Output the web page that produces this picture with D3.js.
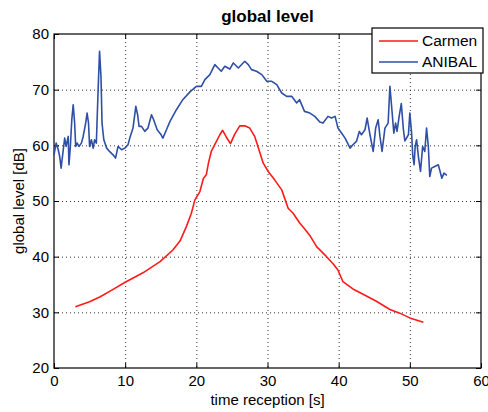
<!DOCTYPE html>
<html>
<head>
<meta charset="utf-8">
<script src="https://cdn.jsdelivr.net/npm/d3@7"></script>
<style>
  body { margin: 0; background: #fff; }
  svg text { font-family: "Liberation Sans", Arial, sans-serif; fill: #000; }
</style>
</head>
<body>
<div class="container"></div>
<script>
const xTicks = [0, 10, 20, 30, 40, 50, 60],
    yTicks = [20, 30, 40, 50, 60, 70, 80];

// Carmen: [time s, level dB]
const carmen = [
    [3.0,31.0],[5,31.9],[6.5,32.8],[8,33.9],[10,35.4],[12.5,37.1],[14.9,39.1],[16.7,41.2],
    [17.7,42.8],[18.6,45.4],[19.3,47.8],[19.8,50.2],[20.5,51.7],[21.0,54.1],[21.4,54.7],
    [21.7,56.8],[22.1,58.9],[22.7,60.4],[23.3,61.9],[23.7,62.7],[24.2,61.5],[24.8,60.3],
    [25.4,62.0],[26.1,63.5],[26.8,63.5],[27.5,63.1],[28.2,61.6],[28.5,60.4],[29.4,56.8],
    [30.1,55.3],[31.0,53.8],[32.0,52.0],[32.9,48.7],[33.6,47.8],[34.5,46.1],[35.2,45.0],
    [35.9,43.9],[36.9,41.8],[38.3,40.0],[39.3,38.6],[39.9,37.6],[40.6,35.5],[42,34.2],
    [43.5,33.2],[45.3,32.0],[47.2,30.5],[48.5,29.9],[50.0,29.0],[51.9,28.2]
];

// ANIBAL: [time s, level dB]
const anibal = [
    [0.0,58.3],[0.3,60.4],[0.6,59.2],[0.8,58.0],[1.0,55.9],[1.3,59.2],[1.5,61.3],[1.7,59.8],
    [2.0,61.6],[2.1,56.5],[2.3,59.8],[2.5,64.6],[2.7,67.3],[2.9,64.0],[3.05,59.8],[3.25,60.4],
    [3.5,59.8],[3.85,60.4],[4.1,61.6],[4.45,64.0],[4.65,65.8],[4.85,64.0],[5.0,59.8],[5.25,61.0],
    [5.5,59.5],[5.7,61.0],[5.95,60.4],[6.2,70.0],[6.4,76.9],[6.6,72.4],[6.75,64.0],[7.0,61.0],
    [7.4,59.5],[7.8,58.9],[8.3,58.3],[8.65,57.7],[9.0,59.8],[9.5,59.2],[9.95,59.5],[10.4,60.1],
    [10.65,61.3],[11.1,63.1],[11.5,67.0],[11.75,65.5],[11.95,63.4],[12.3,63.4],[12.75,62.5],
    [13.2,63.1],[13.7,65.5],[14.0,64.6],[14.5,62.8],[15.0,62.0],[15.3,61.3],[15.8,62.8],
    [16.3,64.3],[17.2,66.4],[18.1,68.2],[19.1,69.6],[20.0,70.6],[20.7,70.6],[21.2,71.8],
    [21.9,72.7],[22.6,74.5],[23.05,73.9],[23.5,73.3],[24.0,74.2],[24.7,73.7],[25.2,74.8],
    [25.9,73.9],[26.8,75.1],[27.3,74.5],[27.75,73.6],[28.45,73.3],[29.2,72.7],[29.9,71.5],
    [30.6,71.5],[31.3,70.9],[32.0,69.4],[32.7,68.8],[33.4,68.8],[34.1,67.6],[34.5,68.2],
    [35.2,66.1],[35.95,65.8],[36.65,65.2],[37.35,64.2],[37.8,64.0],[38.5,65.2],[39.0,64.9],
    [39.5,65.2],[39.9,63.1],[40.4,62.2],[40.9,61.3],[41.6,59.5],[42.0,60.1],[42.5,60.7],
    [42.9,62.5],[43.2,61.9],[43.7,62.8],[44.0,64.9],[44.4,61.9],[44.85,58.9],[45.2,63.1],
    [45.55,64.6],[45.8,61.6],[46.1,58.9],[46.5,63.1],[46.95,64.0],[47.2,70.6],[47.4,67.6],
    [47.75,62.2],[48.0,64.0],[48.2,62.5],[48.5,65.2],[48.8,67.5],[49.1,62.8],[49.3,60.8],
    [49.8,61.9],[50.0,65.8],[50.25,62.2],[50.4,58.3],[50.6,56.5],[50.75,59.8],[50.95,61.0],
    [51.2,58.0],[51.5,55.3],[51.8,59.8],[52.1,58.9],[52.35,63.1],[52.6,59.8],[52.8,54.4],
    [53.05,55.9],[53.5,56.2],[54.0,56.5],[54.5,54.1],[54.8,55.0],[55.2,54.6]
];

const seriesNames = ["Carmen", "ANIBAL"],
    seriesColors = ["#ff1a1a", "#2f4fa6"];

const width = 488, height = 412,
    margin = {top: 34, right: 7, bottom: 44, left: 54};

const svg = d3.select('.container')
    .append('svg')
    .attr('width', width)
    .attr('height', height);

const x = d3.scaleLinear().domain([0, 60]).range([margin.left, width - margin.right]);
const y = d3.scaleLinear().domain([20, 80]).range([height - margin.bottom, margin.top]);

// grid
svg.append('g')
    .selectAll('line')
    .data(xTicks.slice(1, -1))
    .enter()
    .append('line')
    .attr('x1', d => x(d) + 0.5).attr('x2', d => x(d) + 0.5)
    .attr('y1', y(80)).attr('y2', y(20))
    .attr('stroke', '#333').attr('stroke-dasharray', '1,3');

svg.append('g')
    .selectAll('line')
    .data(yTicks.slice(1, -1))
    .enter()
    .append('line')
    .attr('y1', d => y(d) + 0.5).attr('y2', d => y(d) + 0.5)
    .attr('x1', x(0)).attr('x2', x(60))
    .attr('stroke', '#333').attr('stroke-dasharray', '1,3');

// axes with inward ticks
const fmt = d3.format('d');
const axisFont = g => g.selectAll('text').style('font-size', '15px').attr('font-family', null);

svg.append('g')
    .attr('transform', `translate(0,${y(20)})`)
    .call(d3.axisBottom(x).tickValues(xTicks).tickFormat(fmt).tickSizeInner(-5).tickSizeOuter(0).tickPadding(4))
    .call(axisFont)
    .call(g => g.selectAll('text').attr('dy', '0.9em'))
    .call(g => g.select('.domain').remove());

svg.append('g')
    .attr('transform', `translate(${x(0)},0)`)
    .call(d3.axisLeft(y).tickValues(yTicks).tickFormat(fmt).tickSizeInner(-5).tickSizeOuter(0).tickPadding(5))
    .call(axisFont)
    .call(g => g.select('.domain').remove());

svg.append('g')
    .attr('transform', `translate(0,${y(80)})`)
    .call(d3.axisTop(x).tickValues(xTicks).tickFormat('').tickSizeInner(-5).tickSizeOuter(0))
    .call(g => g.select('.domain').remove());

svg.append('g')
    .attr('transform', `translate(${x(60)},0)`)
    .call(d3.axisRight(y).tickValues(yTicks).tickFormat('').tickSizeInner(-5).tickSizeOuter(0))
    .call(g => g.select('.domain').remove());

svg.append('rect')
    .attr('x', x(0)).attr('y', y(80))
    .attr('width', x(60) - x(0)).attr('height', y(20) - y(80))
    .attr('fill', 'none').attr('stroke', '#000').attr('stroke-width', 1.2);

// lines
const line = d3.line().x(d => x(d[0])).y(d => y(d[1]));

svg.append('path')
    .datum(anibal)
    .attr('d', line)
    .attr('fill', 'none')
    .attr('stroke', seriesColors[1])
    .attr('stroke-width', 1.6)
    .attr('stroke-linejoin', 'round');

svg.append('path')
    .datum(carmen)
    .attr('d', line)
    .attr('fill', 'none')
    .attr('stroke', seriesColors[0])
    .attr('stroke-width', 1.6)
    .attr('stroke-linejoin', 'round');

// titles
svg.append('text')
    .attr('x', (x(0) + x(60)) / 2).attr('y', 22)
    .attr('text-anchor', 'middle')
    .style('font-size', '17px').style('font-weight', 'bold')
    .text('global level');

svg.append('text')
    .attr('x', (x(0) + x(60)) / 2).attr('y', 405)
    .attr('text-anchor', 'middle')
    .style('font-size', '15px')
    .text('time reception [s]');

svg.append('text')
    .attr('transform', `translate(24,${(y(20) + y(80)) / 2}) rotate(-90)`)
    .attr('text-anchor', 'middle')
    .style('font-size', '15px')
    .text('global level [dB]');

// legend
const legend = svg.append('g').attr('transform', 'translate(372,28)');
legend.append('rect')
    .attr('width', 111).attr('height', 45)
    .attr('fill', '#fff').attr('stroke', '#000').attr('stroke-width', 1.2);

const item = legend.selectAll('.item')
    .data(seriesNames)
    .enter()
    .append('g')
    .attr('class', 'item')
    .attr('transform', (d, i) => `translate(0,${13 + i * 21})`);

item.append('line')
    .attr('x1', 7).attr('x2', 46)
    .attr('stroke', (d, i) => seriesColors[i])
    .attr('stroke-width', 1.6);

item.append('text')
    .attr('x', 50).attr('dy', '0.35em')
    .style('font-size', '15.5px')
    .text(d => d);
</script>
</body>
</html>
